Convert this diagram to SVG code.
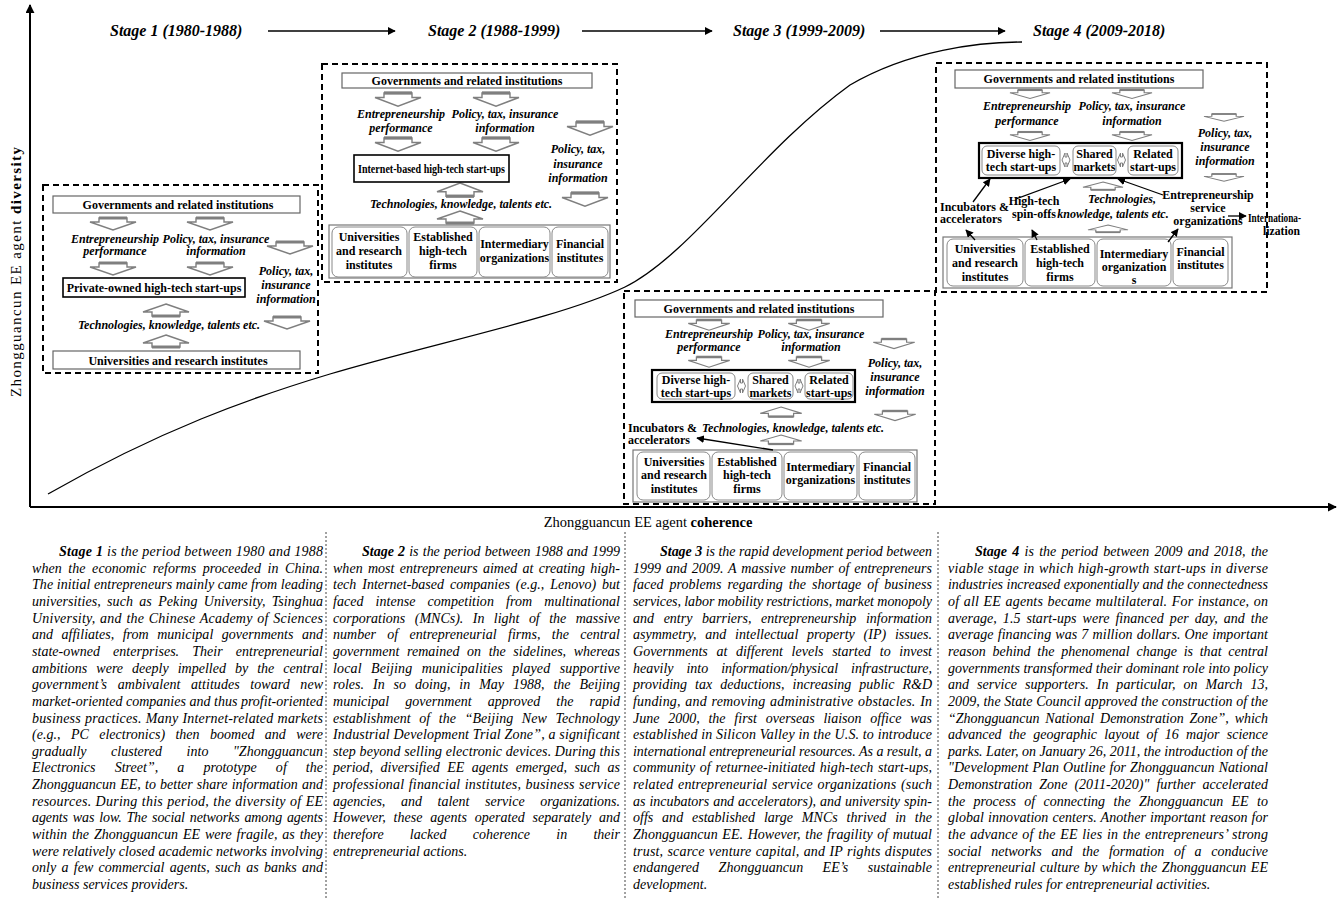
<svg xmlns="http://www.w3.org/2000/svg" xmlns:xlink="http://www.w3.org/1999/xlink" width="1338" height="899" viewBox="0 0 1338 899">
<style>
text{font-family:"Liberation Serif","Times New Roman",serif;fill:#000}
.ttl{font-size:16px;font-weight:bold;font-style:italic}
.b{font-size:12px;font-weight:bold;text-anchor:middle}
.bl{font-size:12px;font-weight:bold}
.bi{font-size:12px;font-weight:bold;font-style:italic;text-anchor:middle}
.p{font-size:14px;font-style:italic}
.ax{font-size:14.5px}
.dash{fill:none;stroke:#000;stroke-width:2;stroke-dasharray:6 4}
.gov{fill:#fff;stroke:#666;stroke-width:1.2}
.blk{fill:#fff;stroke:#000;stroke-width:1.6}
.blk2{fill:#fff;stroke:#000;stroke-width:2.2}
.cont{fill:#fff;stroke:#777;stroke-width:1.2}
.rb{fill:#fff;stroke:#888;stroke-width:1}
.ba{fill:#fff;stroke:#7f7f7f;stroke-width:1.4}
.bat{fill:none;stroke:#7f7f7f;stroke-width:3}
.conn{fill:none;stroke:#000;stroke-width:1.3;marker-end:url(#ah)}
.axis{fill:none;stroke:#000;stroke-width:2;marker-end:url(#ah2)}
.div{fill:none;stroke:#444;stroke-width:1;stroke-dasharray:2 2}
.curve{fill:none;stroke:#000;stroke-width:1.3}
</style>
<defs>
<marker id="ah" viewBox="0 0 10 10" refX="9" refY="5" markerWidth="6" markerHeight="6" orient="auto"><path d="M0,0L10,5L0,10Z" fill="#000"/></marker>
<marker id="ah2" viewBox="0 0 10 10" refX="9" refY="5" markerWidth="9" markerHeight="9" markerUnits="userSpaceOnUse" orient="auto"><path d="M0,0L10,5L0,10Z" fill="#000"/></marker>
<g id="dn"><path class="ba" d="M-14,0H14V4H23L0,12L-23,4H-14Z"/><path class="bat" d="M-14,0H14"/></g>
<g id="up"><path class="ba" d="M0,0L23,8H14V12H-14V8H-23Z"/><path class="bat" d="M-14,12H14"/></g>
<g id="lr"><path class="ba" style="stroke-width:1" d="M-4,0L-1,-7V-3H1V-7L4,0L1,7V3H-1V7Z"/></g>
</defs>

<g id="axes">
<path class="axis" d="M30,507V5"/>
<path class="axis" d="M30,507H1336"/>
<text class="ax" x="648" y="527" text-anchor="middle">Zhongguancun EE agent <tspan font-weight="bold">coherence</tspan></text>
<text class="ax" transform="translate(21,272) rotate(-90)" text-anchor="middle" style="font-size:15px" textLength="250" lengthAdjust="spacing">Zhongguancun EE agent <tspan font-weight="bold">diversity</tspan></text>
<path class="curve" d="M48,494C160,430 250,398 330,374C430,344 560,318 625,287C690,255 760,150 850,85C910,50 980,42 1022,42"/>
</g>

<g id="titles">
<text class="ttl" x="110" y="36">Stage 1 (1980-1988)</text>
<text class="ttl" x="428" y="36">Stage 2 (1988-1999)</text>
<text class="ttl" x="733" y="36">Stage 3 (1999-2009)</text>
<text class="ttl" x="1033" y="36">Stage 4 (2009-2018)</text>
</g>

<!-- Stage 1 -->
<g id="stage1">
<rect class="dash" x="43" y="185" width="275" height="188"/>
<g id="s1-gov"><rect class="gov" x="53" y="196" width="247" height="17"/><text class="b" x="178" y="208.5">Governments and related institutions</text></g>
<use href="#dn" transform="translate(113,218)"/><use href="#dn" transform="translate(210,218)"/>
<use href="#dn" transform="translate(113,263)"/><use href="#dn" transform="translate(210,263)"/>
<use href="#dn" transform="translate(290,242)"/><use href="#dn" transform="translate(287,317)"/>
<use href="#up" transform="translate(166,304)"/><use href="#up" transform="translate(166,335)"/>
<text class="bi" x="115" y="243">Entrepreneurship</text><text class="bi" x="115" y="255">performance</text>
<text class="bi" x="216" y="243">Policy, tax, insurance</text><text class="bi" x="216" y="255">information</text>
<text class="bi" x="286" y="275">Policy, tax,</text><text class="bi" x="286" y="289">insurance</text><text class="bi" x="286" y="303">information</text>
<g id="s1-startups"><rect class="blk" x="63" y="278" width="182" height="19"/><text class="b" x="154" y="292">Private-owned high-tech start-ups</text></g>
<text class="bi" x="169" y="329">Technologies, knowledge, talents etc.</text>
<g id="s1-univ"><rect class="gov" x="53" y="351" width="247" height="18"/><text class="b" x="178" y="365">Universities and research institutes</text></g>
</g>

<!-- Stage 2 -->
<g id="stage2">
<rect class="dash" x="322" y="64" width="295" height="218"/>
<g id="s2-gov"><rect class="gov" x="342" y="73" width="250" height="15"/><text class="b" x="467" y="84.5">Governments and related institutions</text></g>
<use href="#dn" transform="translate(398,93) scale(1,1.1)"/><use href="#dn" transform="translate(496,93) scale(1,1.1)"/>
<use href="#dn" transform="translate(398,138) scale(1,1.1)"/><use href="#dn" transform="translate(496,138) scale(1,1.1)"/>
<use href="#dn" transform="translate(590,122) scale(1,1.1)"/><use href="#dn" transform="translate(585,193) scale(1,1.1)"/>
<use href="#up" transform="translate(460,183) scale(1,1.1)"/><use href="#up" transform="translate(460,211) scale(1,1)"/>
<text class="bi" x="401" y="118">Entrepreneurship</text><text class="bi" x="401" y="132">performance</text>
<text class="bi" x="505" y="118">Policy, tax, insurance</text><text class="bi" x="505" y="132">information</text>
<text class="bi" x="578" y="153">Policy, tax,</text><text class="bi" x="578" y="168">insurance</text><text class="bi" x="578" y="182">information</text>
<g id="s2-startups"><rect class="blk" x="354" y="155" width="155" height="27"/><text class="b" x="431.5" y="173" textLength="147" lengthAdjust="spacingAndGlyphs">Internet-based high-tech start-ups</text></g>
<text class="bi" x="461" y="208">Technologies, knowledge, talents etc.</text>
<rect class="cont" x="329" y="225" width="281" height="53"/>
<g id="s2-univ"><rect class="rb" x="332" y="227" width="75" height="50" rx="6"/><text class="b" x="369" y="241">Universities</text><text class="b" x="369" y="255">and research</text><text class="b" x="369" y="269">institutes</text></g>
<g id="s2-firms"><rect class="rb" x="409" y="227" width="68" height="50" rx="6"/><text class="b" x="443" y="241">Established</text><text class="b" x="443" y="255">high-tech</text><text class="b" x="443" y="269">firms</text></g>
<g id="s2-inter"><rect class="rb" x="479" y="227" width="71" height="50" rx="6"/><text class="b" x="514.5" y="248">Intermediary</text><text class="b" x="514.5" y="262">organizations</text></g>
<g id="s2-fin"><rect class="rb" x="552" y="227" width="56" height="50" rx="6"/><text class="b" x="580" y="248">Financial</text><text class="b" x="580" y="262">institutes</text></g>
</g>

<!-- Stage 3 -->
<g id="stage3">
<rect class="dash" x="624" y="291" width="311" height="213"/>
<g id="s3-gov"><rect class="gov" x="635" y="300" width="248" height="17"/><text class="b" x="759" y="312.5">Governments and related institutions</text></g>
<use href="#dn" transform="translate(709,320) scale(0.9,0.85)"/><use href="#dn" transform="translate(809,320) scale(0.9,0.85)"/>
<use href="#dn" transform="translate(709,357) scale(0.9,0.85)"/><use href="#dn" transform="translate(809,357) scale(0.9,0.85)"/>
<use href="#dn" transform="translate(894,339) scale(0.9,0.8)"/><use href="#dn" transform="translate(895,411) scale(0.9,0.8)"/>
<use href="#up" transform="translate(781,407) scale(0.9,0.8)"/><use href="#up" transform="translate(781,435) scale(0.9,0.75)"/>
<text class="bi" x="709" y="338">Entrepreneurship</text><text class="bi" x="709" y="351">performance</text>
<text class="bi" x="811" y="338">Policy, tax, insurance</text><text class="bi" x="811" y="351">information</text>
<text class="bi" x="895" y="367">Policy, tax,</text><text class="bi" x="895" y="381">insurance</text><text class="bi" x="895" y="395">information</text>
<rect class="blk2" x="652" y="370" width="203" height="32"/>
<g id="s3-diverse"><rect class="rb" x="657" y="373" width="78" height="26" rx="5"/><text class="b" x="696" y="384">Diverse high-</text><text class="b" x="696" y="397">tech start-ups</text></g>
<g id="s3-shared"><rect class="rb" x="748" y="373" width="45" height="26" rx="5"/><text class="b" x="770.5" y="384">Shared</text><text class="b" x="770.5" y="397">markets</text></g>
<g id="s3-related"><rect class="rb" x="805" y="373" width="48" height="26" rx="5"/><text class="b" x="829" y="384">Related</text><text class="b" x="829" y="397">start-ups</text></g>
<use href="#lr" transform="translate(741.5,386)"/><use href="#lr" transform="translate(799,386)"/>
<text class="bl" x="628" y="432">Incubators &amp;</text><text class="bl" x="628" y="444">accelerators</text>
<text class="bi" x="793" y="432">Technologies, knowledge, talents etc.</text>
<rect class="cont" x="633" y="450" width="284" height="52"/>
<g id="s3-univ"><rect class="rb" x="637" y="452" width="73" height="48" rx="6"/><text class="b" x="674" y="466">Universities</text><text class="b" x="674" y="479">and research</text><text class="b" x="674" y="493">institutes</text></g>
<g id="s3-firms"><rect class="rb" x="712" y="452" width="70" height="48" rx="6"/><text class="b" x="747" y="466">Established</text><text class="b" x="747" y="479">high-tech</text><text class="b" x="747" y="493">firms</text></g>
<g id="s3-inter"><rect class="rb" x="784" y="452" width="73" height="48" rx="6"/><text class="b" x="820.5" y="471">Intermediary</text><text class="b" x="820.5" y="484">organizations</text></g>
<g id="s3-fin"><rect class="rb" x="859" y="452" width="56" height="48" rx="6"/><text class="b" x="887" y="471">Financial</text><text class="b" x="887" y="484">institutes</text></g>
</g>

<!-- Stage 4 -->
<g id="stage4">
<rect class="dash" x="936" y="63" width="331" height="229"/>
<g id="s4-gov"><rect class="gov" x="955" y="70" width="248" height="18"/><text class="b" x="1079" y="83">Governments and related institutions</text></g>
<use href="#dn" transform="translate(1030,90) scale(0.87,0.7)"/><use href="#dn" transform="translate(1132,90) scale(0.87,0.7)"/>
<use href="#dn" transform="translate(1030,132) scale(0.87,0.7)"/><use href="#dn" transform="translate(1132,132) scale(0.87,0.7)"/>
<use href="#dn" transform="translate(1224,114) scale(0.87,0.6)"/><use href="#dn" transform="translate(1224,174) scale(0.87,0.6)"/>
<use href="#up" transform="translate(1103,182) scale(0.87,0.65)"/><use href="#up" transform="translate(1108,225) scale(0.87,0.6)"/>
<text class="bi" x="1027" y="110">Entrepreneurship</text><text class="bi" x="1027" y="125">performance</text>
<text class="bi" x="1132" y="110">Policy, tax, insurance</text><text class="bi" x="1132" y="125">information</text>
<text class="bi" x="1225" y="137">Policy, tax,</text><text class="bi" x="1225" y="151">insurance</text><text class="bi" x="1225" y="165">information</text>
<rect class="blk2" x="979" y="143" width="203" height="35"/>
<g id="s4-diverse"><rect class="rb" x="982" y="146" width="78" height="29" rx="5"/><text class="b" x="1021" y="158">Diverse high-</text><text class="b" x="1021" y="171">tech start-ups</text></g>
<g id="s4-shared"><rect class="rb" x="1073" y="146" width="43" height="29" rx="5"/><text class="b" x="1094.5" y="158">Shared</text><text class="b" x="1094.5" y="171">markets</text></g>
<g id="s4-related"><rect class="rb" x="1128" y="146" width="50" height="29" rx="5"/><text class="b" x="1153" y="158">Related</text><text class="b" x="1153" y="171">start-ups</text></g>
<use href="#lr" transform="translate(1066,160)"/><use href="#lr" transform="translate(1121.5,160)"/>
<text class="bi" x="1122" y="203">Technologies,</text><text class="bi" x="1113" y="218">knowledge, talents etc.</text>
<text class="bl" x="940" y="211">Incubators &amp;</text><text class="bl" x="940" y="223">accelerators</text>
<text class="b" x="1034" y="205">High-tech</text><text class="b" x="1034" y="218">spin-offs</text>
<text class="b" x="1208" y="199">Entrepreneurship</text><text class="b" x="1208" y="212">service</text><text class="b" x="1208" y="225">organizations</text>
<text class="bl" x="1248" y="222" textLength="53" lengthAdjust="spacingAndGlyphs">Internationa-</text><text class="bl" x="1263" y="235" textLength="37" lengthAdjust="spacingAndGlyphs">lization</text>
<rect class="cont" x="943" y="237" width="289" height="51"/>
<g id="s4-univ"><rect class="rb" x="947" y="239" width="76" height="47" rx="6"/><text class="b" x="985" y="253">Universities</text><text class="b" x="985" y="267">and research</text><text class="b" x="985" y="281">institutes</text></g>
<g id="s4-firms"><rect class="rb" x="1025" y="239" width="70" height="47" rx="6"/><text class="b" x="1060" y="253">Established</text><text class="b" x="1060" y="267">high-tech</text><text class="b" x="1060" y="281">firms</text></g>
<g id="s4-inter"><rect class="rb" x="1097" y="239" width="74" height="47" rx="6"/><text class="b" x="1134" y="258">Intermediary</text><text class="b" x="1134" y="271">organization</text><text class="b" x="1134" y="284">s</text></g>
<g id="s4-fin"><rect class="rb" x="1173" y="239" width="55" height="47" rx="6"/><text class="b" x="1200.5" y="256">Financial</text><text class="b" x="1200.5" y="269">institutes</text></g>
</g>

<g id="connectors">
<path class="conn" d="M268,31H395"/>
<path class="conn" d="M582,31H712"/>
<path class="conn" d="M880,31H1005"/>
<path class="conn" d="M773,450L697,438"/>
<path class="conn" d="M973,202L990,179"/>
<path class="conn" d="M1016,199L1070,179"/>
<path class="conn" d="M1163,195L1118,179"/>
<path class="conn" d="M975,240L966,230"/>
<path class="conn" d="M1037,240L1032,230"/>
<path class="conn" d="M1168,242L1178,229"/>
<path class="conn" d="M1228,216H1246"/>
</g>

<g id="dividers">
<path class="div" d="M326,532V899"/>
<path class="div" d="M625,532V899"/>
<path class="div" d="M938,532V899"/>
</g>

<g id="text1" class="p">
<text class="p" x="59" y="556" textLength="264" lengthAdjust="spacing"><tspan font-weight="bold">Stage 1</tspan> is the period between 1980 and 1988</text>
<text class="p" x="32" y="573" textLength="291" lengthAdjust="spacing" style="word-spacing:3px">when the economic reforms proceeded in China.</text>
<text class="p" x="32" y="589" textLength="291" lengthAdjust="spacing">The initial entrepreneurs mainly came from leading</text>
<text class="p" x="32" y="606" textLength="291" lengthAdjust="spacing" style="word-spacing:2.8px">universities, such as Peking University, Tsinghua</text>
<text class="p" x="32" y="623" textLength="291" lengthAdjust="spacing" style="word-spacing:1px">University, and the Chinese Academy of Sciences</text>
<text class="p" x="32" y="639" textLength="291" lengthAdjust="spacing" style="word-spacing:5px">and affiliates, from municipal governments and</text>
<text class="p" x="32" y="656" textLength="291" lengthAdjust="spacing" style="word-spacing:9.5px">state-owned enterprises. Their entrepreneurial</text>
<text class="p" x="32" y="673" textLength="291" lengthAdjust="spacing" style="word-spacing:5.5px">ambitions were deeply impelled by the central</text>
<text class="p" x="32" y="689" textLength="291" lengthAdjust="spacing" style="word-spacing:7px">government’s ambivalent attitudes toward new</text>
<text class="p" x="32" y="706" textLength="291" lengthAdjust="spacing">market-oriented companies and thus profit-oriented</text>
<text class="p" x="32" y="723" textLength="291" lengthAdjust="spacing" style="word-spacing:0.5px">business practices. Many Internet-related markets</text>
<text class="p" x="32" y="739" textLength="291" lengthAdjust="spacing" style="word-spacing:6.8px">(e.g., PC electronics) then boomed and were</text>
<text class="p" x="32" y="756" textLength="291" lengthAdjust="spacing" style="word-spacing:21px">gradually clustered into "Zhongguancun</text>
<text class="p" x="32" y="772" textLength="291" lengthAdjust="spacing" style="word-spacing:15.5px">Electronics Street”, a prototype of the</text>
<text class="p" x="32" y="789" textLength="291" lengthAdjust="spacing" style="word-spacing:0.6px">Zhongguancun EE, to better share information and</text>
<text class="p" x="32" y="806" textLength="291" lengthAdjust="spacing" style="word-spacing:0.5px">resources. During this period, the diversity of EE</text>
<text class="p" x="32" y="822" textLength="291" lengthAdjust="spacing" style="word-spacing:1.5px">agents was low. The social networks among agents</text>
<text class="p" x="32" y="839" textLength="291" lengthAdjust="spacing" style="word-spacing:1.3px">within the Zhongguancun EE were fragile, as they</text>
<text class="p" x="32" y="856" textLength="291" lengthAdjust="spacing">were relatively closed academic networks involving</text>
<text class="p" x="32" y="872" textLength="291" lengthAdjust="spacing" style="word-spacing:1.8px">only a few commercial agents, such as banks and</text>
<text class="p" x="32" y="889">business services providers.</text>
</g>

<g id="text2">
<text class="p" x="362" y="556" textLength="258" lengthAdjust="spacing" style="word-spacing:0.7px"><tspan font-weight="bold">Stage 2</tspan> is the period between 1988 and 1999</text>
<text class="p" x="333" y="573" textLength="287" lengthAdjust="spacing" style="word-spacing:1.7px">when most entrepreneurs aimed at creating high-</text>
<text class="p" x="333" y="589" textLength="287" lengthAdjust="spacing" style="word-spacing:2.5px">tech Internet-based companies (e.g., Lenovo) but</text>
<text class="p" x="333" y="606" textLength="287" lengthAdjust="spacing" style="word-spacing:8.7px">faced intense competition from multinational</text>
<text class="p" x="333" y="623" textLength="287" lengthAdjust="spacing" style="word-spacing:5.9px">corporations (MNCs). In light of the massive</text>
<text class="p" x="333" y="639" textLength="287" lengthAdjust="spacing" style="word-spacing:7.8px">number of entrepreneurial firms, the central</text>
<text class="p" x="333" y="656" textLength="287" lengthAdjust="spacing" style="word-spacing:4px">government remained on the sidelines, whereas</text>
<text class="p" x="333" y="673" textLength="287" lengthAdjust="spacing" style="word-spacing:5.7px">local Beijing municipalities played supportive</text>
<text class="p" x="333" y="689" textLength="287" lengthAdjust="spacing" style="word-spacing:5.4px">roles. In so doing, in May 1988, the Beijing</text>
<text class="p" x="333" y="706" textLength="287" lengthAdjust="spacing" style="word-spacing:12.6px">municipal government approved the rapid</text>
<text class="p" x="333" y="723" textLength="287" lengthAdjust="spacing" style="word-spacing:5px">establishment of the “Beijing New Technology</text>
<text class="p" x="333" y="739" textLength="287" lengthAdjust="spacing">Industrial Development Trial Zone”, a significant</text>
<text class="p" x="333" y="756" textLength="287" lengthAdjust="spacing">step beyond selling electronic devices. During this</text>
<text class="p" x="333" y="772" textLength="287" lengthAdjust="spacing" style="word-spacing:3.9px">period, diversified EE agents emerged, such as</text>
<text class="p" x="333" y="789" textLength="287" lengthAdjust="spacing" style="word-spacing:0.5px">professional financial institutes, business service</text>
<text class="p" x="333" y="806" textLength="287" lengthAdjust="spacing" style="word-spacing:12.2px">agencies, and talent service organizations.</text>
<text class="p" x="333" y="822" textLength="287" lengthAdjust="spacing" style="word-spacing:4.2px">However, these agents operated separately and</text>
<text class="p" x="333" y="839" textLength="287" lengthAdjust="spacing" style="word-spacing:22.6px">therefore lacked coherence in their</text>
<text class="p" x="333" y="856">entrepreneurial actions.</text>
</g>

<g id="text3">
<text class="p" x="660" y="556" textLength="272" lengthAdjust="spacing"><tspan font-weight="bold">Stage 3</tspan> is the rapid development period between</text>
<text class="p" x="633" y="573" textLength="299" lengthAdjust="spacing" style="word-spacing:1.3px">1999 and 2009. A massive number of entrepreneurs</text>
<text class="p" x="633" y="589" textLength="299" lengthAdjust="spacing" style="word-spacing:2.5px">faced problems regarding the shortage of business</text>
<text class="p" x="633" y="606" textLength="299" lengthAdjust="spacing">services, labor mobility restrictions, market monopoly</text>
<text class="p" x="633" y="623" textLength="299" lengthAdjust="spacing" style="word-spacing:6.2px">and entry barriers, entrepreneurship information</text>
<text class="p" x="633" y="639" textLength="299" lengthAdjust="spacing" style="word-spacing:5.2px">asymmetry, and intellectual property (IP) issues.</text>
<text class="p" x="633" y="656" textLength="299" lengthAdjust="spacing" style="word-spacing:5.1px">Governments at different levels started to invest</text>
<text class="p" x="633" y="673" textLength="299" lengthAdjust="spacing" style="word-spacing:9.4px">heavily into information/physical infrastructure,</text>
<text class="p" x="633" y="689" textLength="299" lengthAdjust="spacing" style="word-spacing:4.4px">providing tax deductions, increasing public R&amp;D</text>
<text class="p" x="633" y="706" textLength="299" lengthAdjust="spacing" style="word-spacing:1px">funding, and removing administrative obstacles. In</text>
<text class="p" x="633" y="723" textLength="299" lengthAdjust="spacing" style="word-spacing:5.3px">June 2000, the first overseas liaison office was</text>
<text class="p" x="633" y="739" textLength="299" lengthAdjust="spacing">established in Silicon Valley in the U.S. to introduce</text>
<text class="p" x="633" y="756" textLength="299" lengthAdjust="spacing">international entrepreneurial resources. As a result, a</text>
<text class="p" x="633" y="772" textLength="299" lengthAdjust="spacing" style="word-spacing:1px">community of returnee-initiated high-tech start-ups,</text>
<text class="p" x="633" y="789" textLength="299" lengthAdjust="spacing" style="word-spacing:1px">related entrepreneurial service organizations (such</text>
<text class="p" x="633" y="806" textLength="299" lengthAdjust="spacing" style="word-spacing:0.5px">as incubators and accelerators), and university spin-</text>
<text class="p" x="633" y="822" textLength="299" lengthAdjust="spacing" style="word-spacing:5.3px">offs and established large MNCs thrived in the</text>
<text class="p" x="633" y="839" textLength="299" lengthAdjust="spacing" style="word-spacing:1px">Zhongguancun EE. However, the fragility of mutual</text>
<text class="p" x="633" y="856" textLength="299" lengthAdjust="spacing" style="word-spacing:0.5px">trust, scarce venture capital, and IP rights disputes</text>
<text class="p" x="633" y="872" textLength="299" lengthAdjust="spacing" style="word-spacing:15.8px">endangered Zhongguancun EE’s sustainable</text>
<text class="p" x="633" y="889">development.</text>
</g>

<g id="text4">
<text class="p" x="975" y="556" textLength="293" lengthAdjust="spacing" style="word-spacing:1.8px"><tspan font-weight="bold">Stage 4</tspan> is the period between 2009 and 2018, the</text>
<text class="p" x="948" y="573" textLength="320" lengthAdjust="spacing" style="word-spacing:0.5px">viable stage in which high-growth start-ups in diverse</text>
<text class="p" x="948" y="589" textLength="320" lengthAdjust="spacing">industries increased exponentially and the connectedness</text>
<text class="p" x="948" y="606" textLength="320" lengthAdjust="spacing" style="word-spacing:1px">of all EE agents became multilateral. For instance, on</text>
<text class="p" x="948" y="623" textLength="320" lengthAdjust="spacing" style="word-spacing:2.5px">average, 1.5 start-ups were financed per day, and the</text>
<text class="p" x="948" y="639" textLength="320" lengthAdjust="spacing" style="word-spacing:0.5px">average financing was 7 million dollars. One important</text>
<text class="p" x="948" y="656" textLength="320" lengthAdjust="spacing" style="word-spacing:3.2px">reason behind the phenomenal change is that central</text>
<text class="p" x="948" y="673" textLength="320" lengthAdjust="spacing">governments transformed their dominant role into policy</text>
<text class="p" x="948" y="689" textLength="320" lengthAdjust="spacing" style="word-spacing:4.4px">and service supporters. In particular, on March 13,</text>
<text class="p" x="948" y="706" textLength="320" lengthAdjust="spacing">2009, the State Council approved the construction of the</text>
<text class="p" x="948" y="723" textLength="320" lengthAdjust="spacing" style="word-spacing:2.5px">“Zhongguancun National Demonstration Zone”, which</text>
<text class="p" x="948" y="739" textLength="320" lengthAdjust="spacing" style="word-spacing:3.8px">advanced the geographic layout of 16 major science</text>
<text class="p" x="948" y="756" textLength="320" lengthAdjust="spacing">parks. Later, on January 26, 2011, the introduction of the</text>
<text class="p" x="948" y="772" textLength="320" lengthAdjust="spacing" style="word-spacing:0.5px">"Development Plan Outline for Zhongguancun National</text>
<text class="p" x="948" y="789" textLength="320" lengthAdjust="spacing" style="word-spacing:3.5px">Demonstration Zone (2011-2020)" further accelerated</text>
<text class="p" x="948" y="806" textLength="320" lengthAdjust="spacing" style="word-spacing:4.9px">the process of connecting the Zhongguancun EE to</text>
<text class="p" x="948" y="822" textLength="320" lengthAdjust="spacing" style="word-spacing:0.5px">global innovation centers. Another important reason for</text>
<text class="p" x="948" y="839" textLength="320" lengthAdjust="spacing" style="word-spacing:1px">the advance of the EE lies in the entrepreneurs’ strong</text>
<text class="p" x="948" y="856" textLength="320" lengthAdjust="spacing" style="word-spacing:6.2px">social networks and the formation of a conducive</text>
<text class="p" x="948" y="872" textLength="320" lengthAdjust="spacing" style="word-spacing:1px">entrepreneurial culture by which the Zhongguancun EE</text>
<text class="p" x="948" y="889">established rules for entrepreneurial activities.</text>
</g>
</svg>
